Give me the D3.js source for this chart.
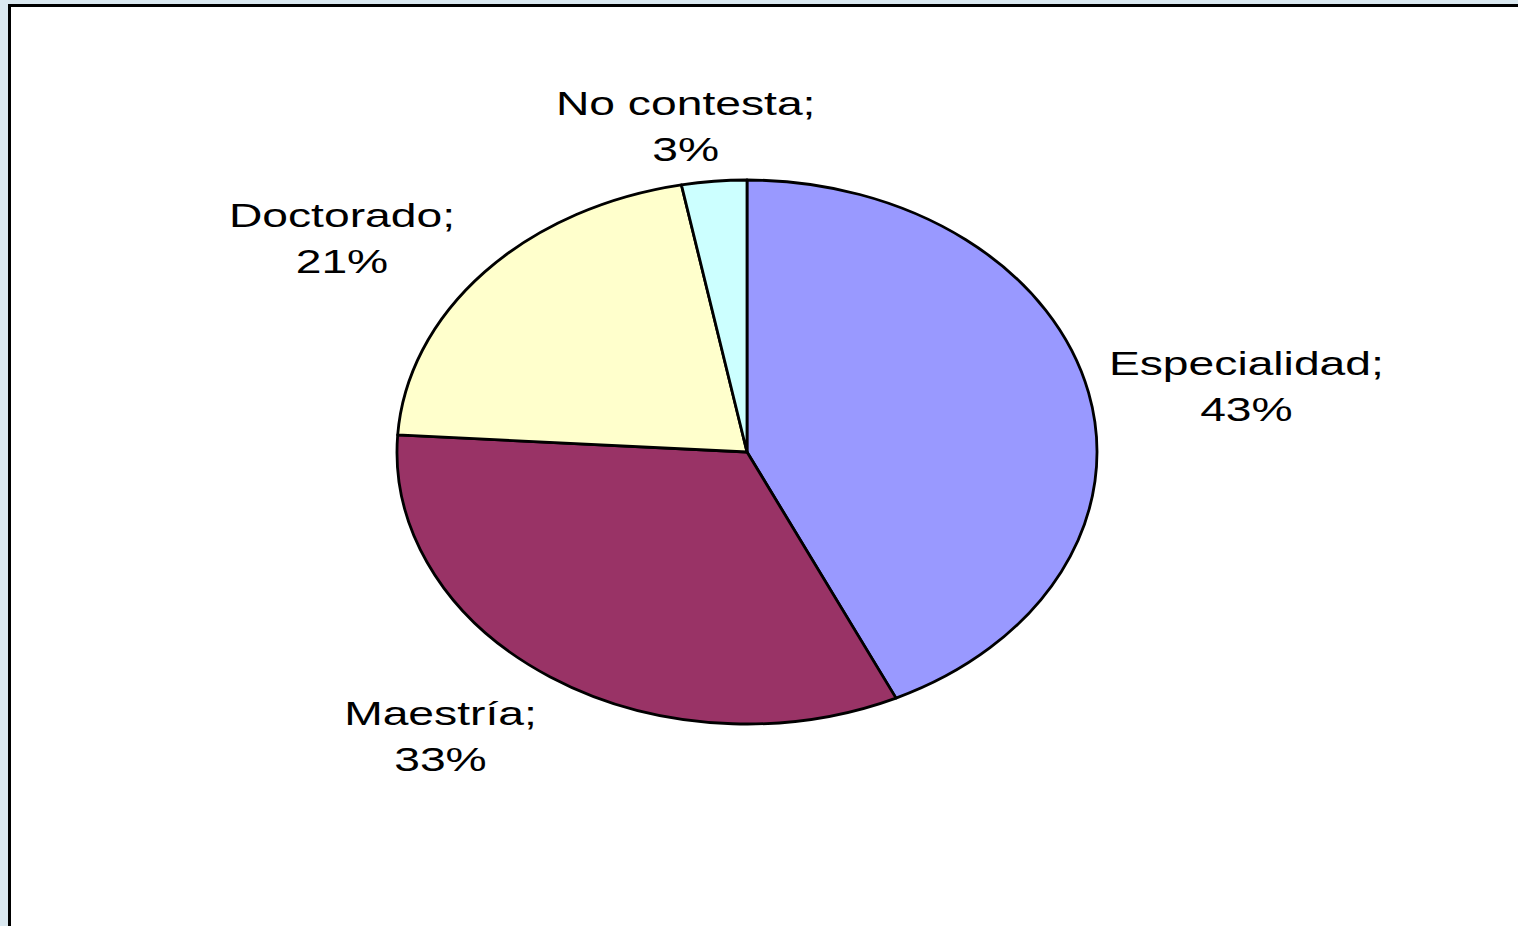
<!DOCTYPE html>
<html>
<head>
<meta charset="utf-8">
<script src="https://cdn.jsdelivr.net/npm/d3@7"></script>
<style>
  html, body { margin: 0; padding: 0; background: #dae8f0; }
  svg { display: block; }
</style>
</head>
<body>
<svg id="chart" width="1518" height="926"></svg>
<script>
// data
const categories = ['Especialidad', 'Maestría', 'Doctorado', 'No contesta'];
const percents = [43, 33, 21, 3];
const colors = ['#9999ff', '#993366', '#ffffcc', '#ccffff'];

let svg = d3.select('#chart');
let W = 1518, H = 926;

// white plot area with thick black frame (runs off right/bottom edge)
svg.append('rect')
  .attr('x', 9.5).attr('y', 5.5)
  .attr('width', W + 20).attr('height', H + 20)
  .attr('fill', '#ffffff')
  .attr('stroke', '#000')
  .attr('stroke-width', 3);

let cx = 747, cy = 452;
let rx = 350, ry = 272;

let pie = d3.pie().sort(null).value(d => d);
let arcs = pie(percents);

let arc = d3.arc().innerRadius(0).outerRadius(ry);

let g = svg.append('g')
  .attr('transform', `translate(${cx},${cy}) scale(${rx / ry},1)`);

g.selectAll('path')
  .data(arcs)
  .enter().append('path')
  .attr('d', arc)
  .attr('fill', (d, i) => colors[i])
  .attr('stroke', '#000')
  .attr('stroke-width', 2.8)
  .attr('stroke-linejoin', 'round')
  .attr('vector-effect', 'non-scaling-stroke');

// labels on an outer ellipse at each slice's mid angle
let labRx = 524, labRy = 335;
let labCx = cx - 12, labCy = cy + 7;
let fontSize = 33.5, lineGap = 46, stretch = 1.38;

let labels = svg.append('g');
arcs.forEach(function(d, i) {
  let a = (d.startAngle + d.endAngle) / 2;
  let lx = labCx + labRx * Math.sin(a);
  let ly = labCy - labRy * Math.cos(a);
  let lines = [categories[i] + ';', percents[i] + '%'];
  let t = labels.append('g')
    .attr('transform', `translate(${lx},${ly}) scale(${stretch},1)`);
  lines.forEach(function(txt, k) {
    t.append('text')
      .attr('x', 0)
      .attr('y', (k - 0.5) * lineGap + fontSize * 0.36)
      .attr('text-anchor', 'middle')
      .attr('font-family', 'Liberation Sans, Arial, sans-serif')
      .attr('font-size', fontSize)
      .attr('fill', '#000')
      .text(txt);
  });
});
</script>
</body>
</html>
